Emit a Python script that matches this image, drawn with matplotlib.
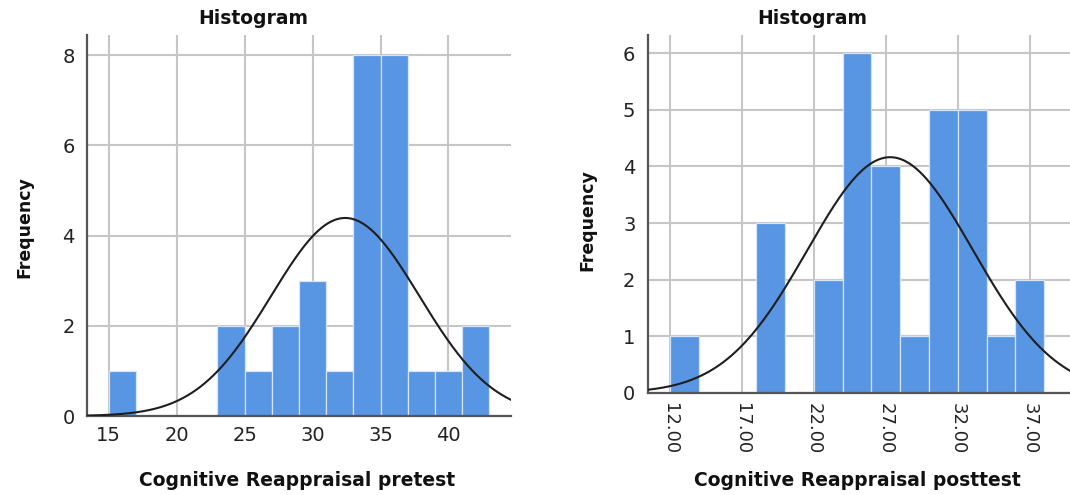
import numpy as np
import matplotlib
matplotlib.use('Agg')
import matplotlib.pyplot as plt

# binned scores (bin width 2), N = 30 in both groups
pre_edges = [15, 17, 19, 21, 23, 25, 27, 29, 31, 33, 35, 37, 39, 41, 43]
pre_counts = [1, 0, 0, 0, 2, 1, 2, 3, 1, 8, 8, 1, 1, 2]
pre_mean, pre_sd = 32.4, 5.45

post_edges = [12, 14, 16, 18, 20, 22, 24, 26, 28, 30, 32, 34, 36, 38]
post_counts = [1, 0, 0, 3, 0, 2, 6, 4, 1, 5, 5, 1, 2]
post_mean, post_sd = 27.3, 5.75

pre_xticks = [15, 20, 25, 30, 35, 40]
pre_yticks = [0, 2, 4, 6, 8]
post_xticks = [12, 17, 22, 27, 32, 37]
post_yticks = [0, 1, 2, 3, 4, 5, 6]

bar_color = '#5895e3'
grid_color = '#c6c6c6'

plt.rcParams['font.family'] = 'DejaVu Sans'
fig = plt.figure(figsize=(10.7, 4.95), dpi=100)


def hist_panel(ax, edges, counts, mean, sd, xlim, ylim):
    edges = np.array(edges, dtype=float)
    counts = np.array(counts)
    n = counts.sum()
    width = edges[1] - edges[0]
    ax.bar(edges[:-1], counts, width=width, align='edge', color=bar_color,
           edgecolor='#d6e4f7', linewidth=0.9, zorder=2)
    xs = np.linspace(xlim[0], xlim[1], 400)
    ys = n * width / (sd * np.sqrt(2 * np.pi)) * np.exp(-0.5 * ((xs - mean) / sd) ** 2)
    ax.plot(xs, ys, color='#1e1e1e', lw=1.5, zorder=3)
    ax.set_xlim(*xlim)
    ax.set_ylim(*ylim)
    ax.set_axisbelow(True)
    ax.grid(True, color=grid_color, lw=1.5)
    for s in ['top', 'right']:
        ax.spines[s].set_visible(False)
    for s in ['left', 'bottom']:
        ax.spines[s].set_color('#555555')
        ax.spines[s].set_linewidth(1.6)
    ax.tick_params(length=0)
    ax.tick_params(axis='y', labelsize=14, pad=9, labelcolor='#222222')


ax1 = fig.add_axes([87 / 1070, 1 - 416 / 495, 424 / 1070, 381 / 495])
hist_panel(ax1, pre_edges, pre_counts, pre_mean, pre_sd, (13.4, 44.6), (0, 8.45))
ax1.set_xticks(pre_xticks)
ax1.set_yticks(pre_yticks)
ax1.tick_params(axis='x', labelsize=14, pad=7, labelcolor='#222222')

ax2 = fig.add_axes([648 / 1070, 1 - 393 / 495, 422 / 1070, 358 / 495])
hist_panel(ax2, post_edges, post_counts, post_mean, post_sd, (10.47, 39.8), (0, 6.32))
ax2.set_xticks(post_xticks)
ax2.set_xticklabels(['%.2f' % t for t in post_xticks], rotation=-90)
ax2.set_yticks(post_yticks)
ax2.tick_params(axis='x', labelsize=13, pad=7, labelcolor='#222222')

# titles and axis labels placed in figure pixels
def ftext(x, y, s, **kw):
    fig.text(x / 1070, 1 - y / 495, s, ha='center', va='center',
             fontweight='bold', color='#111111', **kw)

ftext(253, 18, 'Histogram', fontsize=13.5)
ftext(812, 18, 'Histogram', fontsize=13.5)
ftext(297, 480, 'Cognitive Reappraisal pretest', fontsize=13.5)
ftext(857, 480, 'Cognitive Reappraisal posttest', fontsize=13.5)
ftext(24, 227, 'Frequency', fontsize=12.5, rotation=90)
ftext(587, 220, 'Frequency', fontsize=12.5, rotation=90)

fig.savefig('out.png', dpi=100)
